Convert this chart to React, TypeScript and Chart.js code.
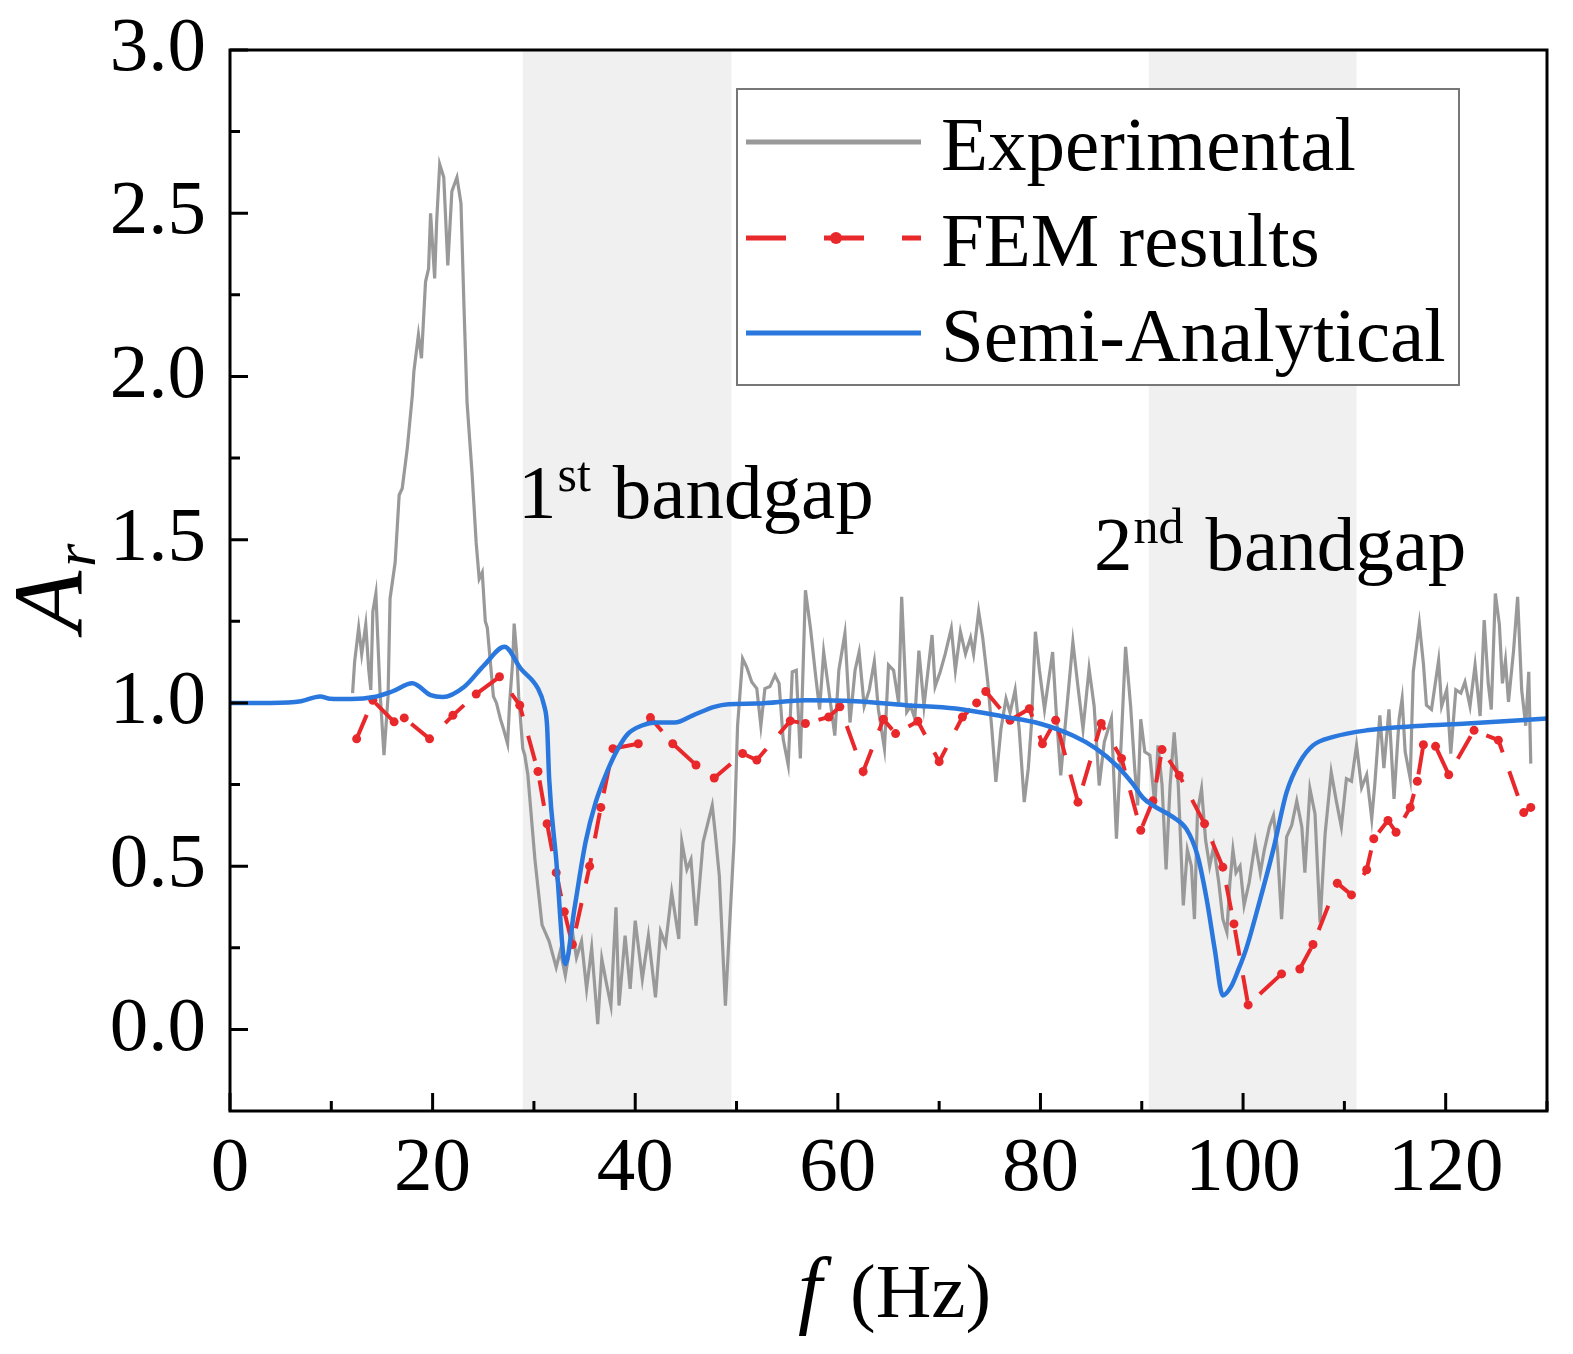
import React, { useEffect, useRef } from "react";
import { Chart, registerables } from "chart.js";

Chart.register(...registerables);

// ---------------- data ----------------
const expF = [
  12.1, 12.3, 12.7, 13.0, 13.4, 13.7, 13.9, 14.1, 14.4, 14.8, 15.2, 15.6, 15.8, 16.3, 16.7, 17.0, 17.5, 18.0, 18.15, 18.6,
  18.9, 19.3, 19.6, 19.8, 20.2, 20.4, 20.7, 21.1, 21.5, 21.9, 22.4, 22.8, 23.1, 23.4, 23.9, 24.3, 24.6, 24.9, 25.2, 25.4,
  25.7, 26.0, 26.3, 26.7, 27.0, 27.4, 27.6, 27.9, 28.05, 28.3, 28.5, 28.9, 29.1, 29.4, 30.1, 30.8, 31.5, 32.2, 32.6, 33.1,
  33.8, 34.2, 34.7, 35.2, 35.7, 36.3, 36.7, 37.1, 37.6, 38.1, 38.4, 39.0, 39.5, 40.0, 40.7, 41.3, 42.0, 42.5, 43.0, 43.6,
  44.3, 44.6, 45.1, 45.5, 46.0, 46.7, 47.6, 47.9, 48.3, 48.9, 49.2, 49.75, 50.1, 50.6, 51.0, 51.5, 52.0, 52.4, 52.8, 53.3,
  53.8, 54.2, 54.6, 55.1, 55.5, 55.9, 56.3, 56.8, 57.3, 57.8, 58.2, 58.6, 59.1, 59.7, 60.1, 60.7, 61.2, 61.7, 62.1, 62.6,
  63.1, 63.6, 64.0, 64.6, 65.0, 65.5, 66.0, 66.3, 66.8, 67.2, 67.6, 68.0, 68.5, 69.3, 69.6, 70.1, 70.6, 71.2, 71.6, 72.1,
  72.6, 73.1, 73.4, 73.9, 74.3, 74.8, 75.2, 75.6, 76.1, 76.6, 77.0, 77.5, 77.9, 78.4, 78.8, 79.1, 79.5, 79.9, 80.4, 81.2,
  81.6, 82.0, 82.5, 83.2, 83.7, 84.2, 84.8, 85.3, 85.8, 86.3, 87.0, 87.5, 88.0, 88.4, 88.9, 89.3, 89.6, 89.9, 90.3, 90.8,
  91.3, 91.6, 92.0, 92.4, 92.8, 93.2, 93.6, 94.1, 94.5, 94.9, 95.2, 95.5, 95.9, 96.3, 96.7, 97.1, 97.6, 98.0, 98.4, 98.7,
  99.0, 99.3, 99.7, 100.1, 100.6, 101.2, 101.7, 102.1, 102.6, 103.0, 103.4, 103.8, 104.3, 104.8, 105.3, 105.8, 106.1, 106.6, 107.1, 107.6,
  108.1, 108.7, 109.2, 109.7, 110.2, 110.7, 111.2, 111.7, 112.2, 112.7, 113.0, 113.5, 113.9, 114.4, 114.9, 115.4, 115.7, 116.0, 116.5, 116.8,
  117.4, 117.8, 118.1, 118.6, 119.3, 119.6, 120.1, 120.5, 121.0, 121.5, 121.9, 122.4, 122.9, 123.4, 123.8, 124.2, 124.5, 124.9, 125.3, 125.6,
  125.9, 126.2, 126.7, 127.1, 127.5, 127.9, 128.2, 128.4,
];
const expAr = [
  1.03, 1.125, 1.23, 1.15, 1.24, 1.1, 1.04, 1.28, 1.335, 1.04, 0.84, 1.02, 1.32, 1.43, 1.637, 1.657, 1.78, 1.943, 2.015, 2.128,
  2.056, 2.29, 2.33, 2.5, 2.3, 2.475, 2.65, 2.61, 2.34, 2.567, 2.61, 2.53, 2.21, 1.92, 1.7, 1.49, 1.38, 1.4, 1.25, 1.23,
  1.125, 1.02, 1.0, 0.95, 0.92, 0.875, 1.0, 1.125, 1.243, 1.15, 1.02, 0.86, 0.84, 0.78, 0.52, 0.32, 0.27, 0.19, 0.24, 0.165,
  0.3, 0.22, 0.27, 0.124, 0.25, 0.016, 0.216, 0.15, 0.073, 0.374, 0.073, 0.287, 0.124, 0.333, 0.154, 0.287, 0.098, 0.3, 0.26, 0.42,
  0.277, 0.574, 0.49, 0.52, 0.318, 0.574, 0.686, 0.6, 0.47, 0.073, 0.25, 0.574, 0.93, 1.136, 1.11, 1.064, 1.044, 0.93, 1.044, 1.05,
  1.085, 1.06, 0.89, 0.81, 1.095, 1.1, 0.83, 1.345, 1.228, 1.085, 0.98, 1.156, 1.04, 0.9, 1.1, 1.213, 0.94, 1.1, 1.156, 0.99,
  1.04, 1.126, 0.98, 0.86, 1.116, 1.1, 1.0, 1.325, 0.972, 0.99, 0.952, 1.16, 0.99, 1.208, 1.05, 1.095, 1.15, 1.228, 1.1, 1.218,
  1.15, 1.2, 1.15, 1.28, 1.2, 1.064, 0.92, 0.758, 0.92, 1.013, 0.97, 1.04, 0.92, 0.696, 0.8, 0.93, 1.218, 1.1, 0.98, 1.156,
  0.95, 0.778, 0.95, 1.187, 1.05, 0.92, 1.105, 0.99, 0.747, 0.88, 0.952, 0.584, 0.9, 1.172, 0.99, 0.8, 0.686, 0.95, 0.85, 0.84,
  0.686, 0.87, 0.75, 0.49, 0.75, 0.91, 0.75, 0.38, 0.55, 0.5, 0.338, 0.666, 0.737, 0.58, 0.5, 0.56, 0.45, 0.338, 0.298, 0.45,
  0.55, 0.48, 0.5, 0.38, 0.45, 0.574, 0.48, 0.55, 0.62, 0.655, 0.55, 0.338, 0.59, 0.625, 0.7, 0.62, 0.48, 0.737, 0.66, 0.328,
  0.6, 0.788, 0.7, 0.62, 0.768, 0.76, 0.87, 0.74, 0.78, 0.645, 0.75, 0.962, 0.8, 0.98, 0.706, 0.95, 1.013, 0.85, 0.768, 1.095,
  1.243, 1.12, 0.993, 0.98, 1.13, 0.99, 1.04, 0.845, 1.04, 1.03, 1.064, 0.99, 1.116, 0.96, 1.254, 1.06, 0.98, 1.335, 1.24, 1.06,
  1.13, 1.003, 1.16, 1.325, 1.04, 0.93, 1.095, 0.814,
];

const femF = [
  12.5, 14.1, 16.2, 17.2, 19.7, 22.0, 24.3, 26.6, 28.6, 30.4, 31.3, 32.2, 33.0, 33.8, 35.5, 36.6, 37.8, 40.3, 41.5, 43.7,
  46.0, 47.8, 50.6, 52.0, 55.3, 56.8, 59.1, 60.2, 62.5, 64.5, 65.7, 67.9, 70.0, 72.3, 73.7, 74.6, 77.0, 78.9, 80.2, 81.5,
  83.7, 86.0, 88.0, 89.9, 91.1, 92.0, 93.7, 96.2, 98.0, 99.1, 100.5, 103.8, 105.6, 106.9, 109.3, 110.7, 112.2, 112.9, 114.3, 115.1,
  116.5, 117.2, 117.8, 119.0, 120.3, 122.8, 125.2, 127.7, 128.4,
];
const femAr = [
  0.89, 1.008, 0.942, 0.954, 0.89, 0.962, 1.027, 1.08, 0.993, 0.79, 0.63, 0.48, 0.36, 0.26, 0.5, 0.68, 0.86, 0.875, 0.955, 0.875,
  0.81, 0.77, 0.845, 0.825, 0.945, 0.937, 0.957, 0.988, 0.79, 0.95, 0.906, 0.944, 0.82, 0.957, 1.0, 1.035, 0.947, 0.982, 0.875, 0.947,
  0.696, 0.937, 0.83, 0.61, 0.7, 0.857, 0.778, 0.63, 0.497, 0.323, 0.075, 0.17, 0.185, 0.26, 0.448, 0.412, 0.489, 0.584, 0.64, 0.604,
  0.68, 0.76, 0.872, 0.867, 0.78, 0.916, 0.886, 0.664, 0.68,
];

const semiF = [
  0, 4, 7, 8.9, 9.9, 12, 14.2, 16, 18, 19.8, 21, 23.1, 25.1, 27.1, 28.7, 30.4, 31.0, 31.3, 31.5, 32.2,
  33.1, 34.0, 35.1, 36.1, 37.2, 38.3, 39.3, 40.6, 42.1, 43.9, 45.7, 47.8, 49.2, 52, 56.8, 61.7, 66.7, 71.6, 76.6, 79.9,
  83.2, 85.5, 87.5, 89.1, 90.1, 91.1, 93.1, 94.4, 95.5, 96.4, 97.2, 98.0, 98.8, 99.5, 100.3, 101.7, 103.0, 104.3, 105.6, 106.9,
  108.9, 112.2, 117.2, 122.1, 130,
];
const semiAr = [
  1.0, 1.0, 1.005, 1.02, 1.013, 1.012, 1.018, 1.035, 1.06, 1.024, 1.018, 1.049, 1.116, 1.172, 1.105, 1.044, 0.993, 0.93, 0.77, 0.52,
  0.2, 0.37, 0.574, 0.696, 0.788, 0.86, 0.906, 0.93, 0.94, 0.94, 0.962, 0.988, 0.996, 0.998, 1.008, 1.005, 0.993, 0.983, 0.957, 0.937,
  0.9, 0.86, 0.809, 0.753, 0.71, 0.686, 0.65, 0.614, 0.533, 0.4, 0.246, 0.104, 0.13, 0.18, 0.246, 0.4, 0.553, 0.727, 0.819, 0.87,
  0.896, 0.916, 0.929, 0.937, 0.952,
];

const seriesNames = ["Experimental", "FEM results", "Semi-Analytical"];
const xTicks = [0, 20, 40, 60, 80, 100, 120];
const xMinorTicks = [10, 30, 50, 70, 90, 110, 130];
const yTicks = [0, 0.5, 1.0, 1.5, 2.0, 2.5, 3.0];
const yMinorTicks = [0.25, 0.75, 1.25, 1.75, 2.25, 2.75];
const bandStart = [28.9, 90.7];
const bandEnd = [49.5, 111.2];
const bandOrdinals = ["1", "2"];
const bandSuffixes = ["st", "nd"];

// ---------------- styles ----------------
const SERIF = "'Liberation Serif', 'Times New Roman', serif";
const GRAY = "#999999";
const RED = "#e8282b";
const BLUE = "#2a78de";
const W = 1557;
const H = 1338;

const decorPlugin = {
  id: "decor",
  beforeDatasetsDraw(chart: any) {
    const { ctx, chartArea: a, scales } = chart;
    const x = scales.x;
    ctx.save();
    ctx.fillStyle = "#f0f0f0";
    bandStart.forEach((s, i) => {
      const x0 = x.getPixelForValue(s);
      const x1 = x.getPixelForValue(bandEnd[i]);
      ctx.fillRect(x0, a.top, x1 - x0, a.bottom - a.top);
    });
    ctx.restore();
  },
  afterDraw(chart: any) {
    const { ctx, chartArea: a, scales } = chart;
    const x = scales.x;
    const y = scales.y;
    ctx.save();

    // frame
    ctx.strokeStyle = "#000";
    ctx.lineWidth = 3;
    ctx.strokeRect(a.left, a.top, a.right - a.left, a.bottom - a.top);

    // inward ticks
    ctx.lineWidth = 3;
    ctx.beginPath();
    yTicks.forEach((v) => {
      const py = y.getPixelForValue(v);
      ctx.moveTo(a.left, py);
      ctx.lineTo(a.left + 18, py);
    });
    yMinorTicks.forEach((v) => {
      const py = y.getPixelForValue(v);
      ctx.moveTo(a.left, py);
      ctx.lineTo(a.left + 10, py);
    });
    xTicks.forEach((v) => {
      const px = x.getPixelForValue(v);
      ctx.moveTo(px, a.bottom);
      ctx.lineTo(px, a.bottom - 18);
    });
    xMinorTicks.forEach((v) => {
      const px = x.getPixelForValue(v);
      ctx.moveTo(px, a.bottom);
      ctx.lineTo(px, a.bottom - 10);
    });
    ctx.stroke();

    // legend
    const lx0 = 729, ly0 = 81, lw = 722, lh = 296;
    ctx.fillStyle = "#fff";
    ctx.fillRect(lx0, ly0, lw, lh);
    ctx.strokeStyle = "#777";
    ctx.lineWidth = 2;
    ctx.strokeRect(lx0, ly0, lw, lh);
    const rows = [134, 230, 325];
    const colors = [GRAY, RED, BLUE];
    rows.forEach((ry, i) => {
      ctx.save();
      ctx.strokeStyle = colors[i];
      ctx.lineWidth = 5;
      ctx.lineCap = "butt";
      if (i === 1) ctx.setLineDash([40, 38]);
      ctx.beginPath();
      ctx.moveTo(738, ry);
      ctx.lineTo(913, ry);
      ctx.stroke();
      if (i === 1) {
        ctx.fillStyle = RED;
        ctx.beginPath();
        ctx.arc(828, ry, 6, 0, Math.PI * 2);
        ctx.fill();
      }
      ctx.restore();
      ctx.fillStyle = "#000";
      ctx.font = `77px ${SERIF}`;
      ctx.textAlign = "left";
      ctx.textBaseline = "alphabetic";
      ctx.fillText(seriesNames[i], 933, ry + 28);
    });

    // band annotations
    const annot = [
      { x: 510, base: 510 },
      { x: 1086, base: 562 },
    ];
    annot.forEach((p, i) => {
      ctx.fillStyle = "#000";
      ctx.textBaseline = "alphabetic";
      ctx.font = `77px ${SERIF}`;
      ctx.fillText(bandOrdinals[i], p.x, p.base);
      let cx = p.x + ctx.measureText(bandOrdinals[i]).width + 1;
      ctx.font = `50px ${SERIF}`;
      ctx.fillText(bandSuffixes[i], cx, p.base - 27);
      cx += ctx.measureText(bandSuffixes[i]).width + 22;
      ctx.font = `77px ${SERIF}`;
      ctx.fillText("bandgap", cx, p.base);
    });

    // y title  A_r  (rotated)
    ctx.save();
    ctx.translate(74, 624);
    ctx.rotate(-Math.PI / 2);
    ctx.fillStyle = "#000";
    ctx.font = `italic 100px ${SERIF}`;
    ctx.fillText("A", 0, 0);
    const aw = ctx.measureText("A").width;
    ctx.font = `italic 60px ${SERIF}`;
    ctx.fillText("r", aw + 4, 13);
    ctx.restore();

    // x title  f (Hz)
    ctx.fillStyle = "#000";
    ctx.font = `italic 86px ${SERIF}`;
    ctx.fillText("f", 790, 1309);
    ctx.font = `77px ${SERIF}`;
    ctx.fillText("(Hz)", 842, 1309);

    ctx.restore();
  },
};

export default function App() {
  const ref = useRef<HTMLCanvasElement | null>(null);
  useEffect(() => {
    if (!ref.current) return;
    const chart = new Chart(ref.current, {
      type: "line",
      data: {
        datasets: [
          {
            label: seriesNames[0],
            data: expF.map((f, i) => ({ x: f, y: expAr[i] })),
            borderColor: GRAY,
            borderWidth: 3.2,
            pointRadius: 0,
            tension: 0,
            order: 3,
          },
          {
            label: seriesNames[1],
            data: femF.map((f, i) => ({ x: f, y: femAr[i] })),
            borderColor: RED,
            backgroundColor: RED,
            borderWidth: 4,
            borderDash: [26, 20],
            pointRadius: 4.5,
            pointBorderWidth: 0,
            pointBackgroundColor: RED,
            tension: 0,
            order: 2,
          },
          {
            label: seriesNames[2],
            data: semiF.map((f, i) => ({ x: f, y: semiAr[i] })),
            borderColor: BLUE,
            borderWidth: 4.5,
            pointRadius: 0,
            cubicInterpolationMode: "monotone",
            order: 1,
          },
        ],
      } as any,
      options: {
        responsive: false,
        animation: false,
        devicePixelRatio: 1,
        layout: { padding: { top: 42, right: 18, left: 0, bottom: 0 } },
        plugins: { legend: { display: false }, tooltip: { enabled: false } },
        scales: {
          x: {
            type: "linear",
            min: 0,
            max: 130,
            grid: { display: false, drawTicks: false },
            border: { display: false },
            afterBuildTicks: (s: any) => {
              s.ticks = xTicks.map((v) => ({ value: v }));
            },
            afterFit: (s: any) => {
              s.height = 235;
              s.paddingLeft = 0;
              s.paddingRight = 0;
            },
            ticks: {
              autoSkip: false,
              maxRotation: 0,
              padding: 20,
              color: "#000",
              font: { family: SERIF, size: 77, lineHeight: 1 },
              callback: (v: any) => String(v),
            },
          },
          y: {
            type: "linear",
            min: -0.25,
            max: 3.0,
            grid: { display: false, drawTicks: false },
            border: { display: false },
            afterBuildTicks: (s: any) => {
              s.ticks = yTicks.map((v) => ({ value: v }));
            },
            afterFit: (s: any) => {
              s.width = 222;
              s.paddingTop = 0;
              s.paddingBottom = 0;
            },
            ticks: {
              autoSkip: false,
              padding: 24,
              color: "#000",
              font: { family: SERIF, size: 77, lineHeight: 1 },
              callback: (v: any) => Number(v).toFixed(1),
            },
          },
        },
      } as any,
      plugins: [decorPlugin],
    });
    return () => chart.destroy();
  }, []);
  return (
    <div>
      <canvas ref={ref} width={W} height={H} style={{ display: "block", width: W, height: H }} />
    </div>
  );
}
